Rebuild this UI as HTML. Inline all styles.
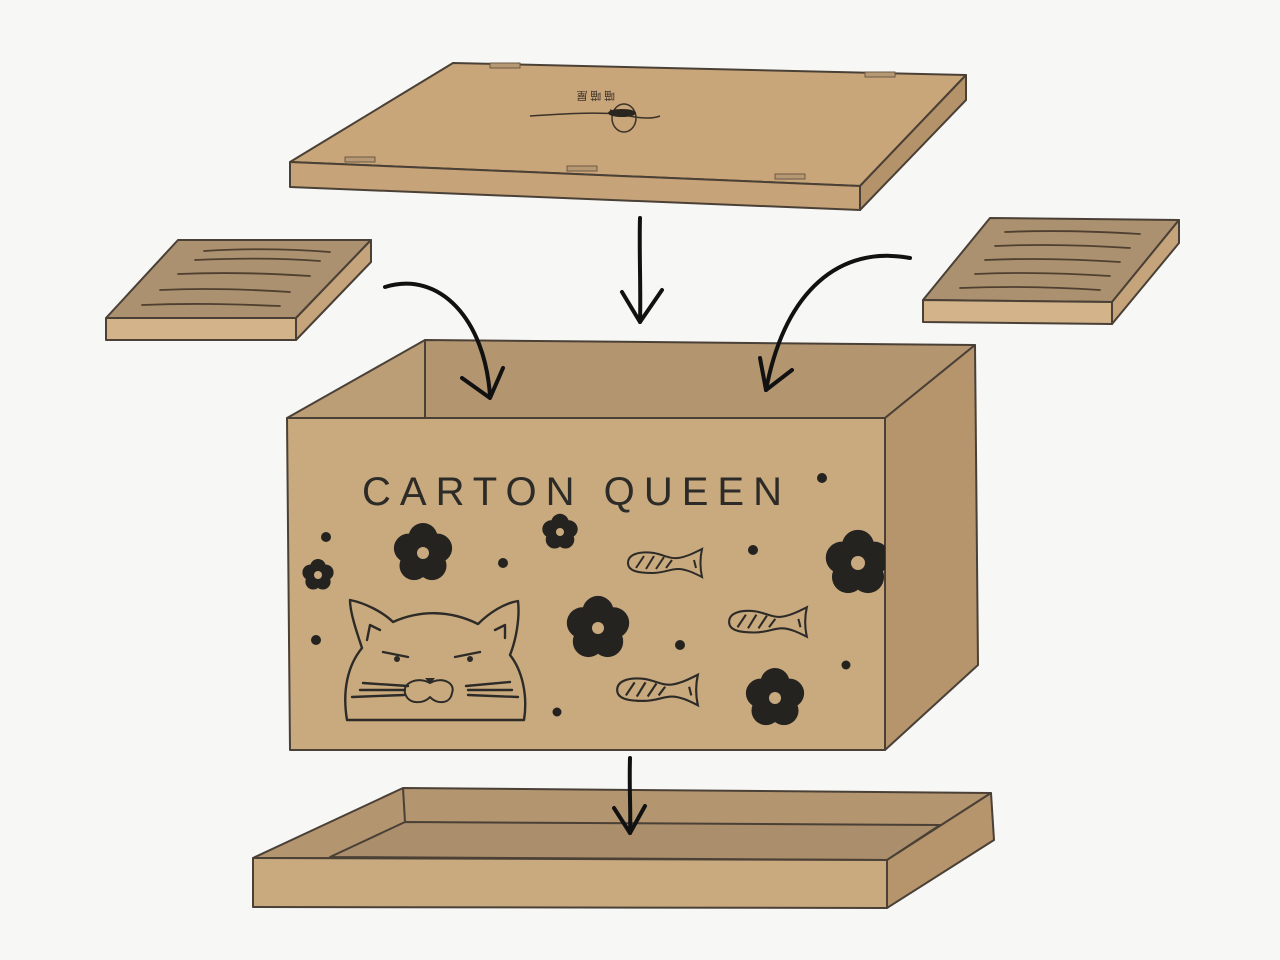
<!DOCTYPE html>
<html><head><meta charset="utf-8"><style>
html,body{margin:0;padding:0;background:#f7f7f6;}
svg{display:block;}
</style></head><body>
<svg width="1280" height="960" viewBox="0 0 1280 960" xmlns="http://www.w3.org/2000/svg">
<defs>
<g id="fl">
<circle cx="0" cy="-0.55" r="0.52"/><circle cx="0.52" cy="-0.17" r="0.52"/><circle cx="0.32" cy="0.45" r="0.52"/><circle cx="-0.32" cy="0.45" r="0.52"/><circle cx="-0.52" cy="-0.17" r="0.52"/>
<circle cx="0" cy="0" r="0.6"/>
</g>
<g id="fish" fill="none" stroke="#2d2b27" stroke-width="2">
<path d="M2,0 C2,-9 14,-12 28,-10 C38,-8 44,-4 52,-5 C60,-6 68,-10 76,-14 C74,-5 74,5 76,14 C68,10 60,6 52,6 C44,6 38,10 26,10 C12,10 2,8 2,0 Z"/>
<path d="M10,5 L18,-7 M20,6 L28,-7 M30,6 L38,-6 M40,5 L46,-3"/>
<path d="M68,-3 L70,5"/>
</g>
<clipPath id="frontclip"><rect x="287" y="418" width="598" height="332"/></clipPath>
</defs>

<!-- LID -->
<g stroke="#4a4036" stroke-width="2" stroke-linejoin="round">
<polygon points="290,162 453,63 966,75 860,186" fill="#c9a679"/>
<polygon points="290,162 860,186 860,210 290,187" fill="#c6a378"/>
<polygon points="860,186 966,75 966,100 860,210" fill="#b5936a"/>
</g>
<g fill="#b69873" stroke="#6b5a46" stroke-width="1">
<rect x="490" y="63" width="30" height="5"/><rect x="865" y="72" width="30" height="5"/>
<rect x="345" y="157" width="30" height="5"/><rect x="567" y="166" width="30" height="5"/><rect x="775" y="174" width="30" height="5"/>
</g>
<g fill="none" stroke="#3b3229" stroke-width="1.5">
<path d="M530,116 C560,114 590,112 620,114 M610,110 C630,118 650,120 660,116"/>
<ellipse cx="624" cy="118" rx="12" ry="14"/>
</g>
<ellipse cx="622" cy="113" rx="14" ry="4" fill="#2b2520"/>
<text x="615" y="100" font-family="Liberation Serif, 'Noto Sans CJK SC', serif" font-size="11" fill="#3b3229" transform="rotate(180 615 96)">喵 喵 屋</text>

<!-- LEFT PAD -->
<g stroke="#4a4036" stroke-width="2" stroke-linejoin="round">
<polygon points="106,318 178,240 371,240 296,318" fill="#ac9170"/>
<polygon points="106,318 296,318 296,340 106,340" fill="#d2b38a"/>
<polygon points="296,318 371,240 371,262 296,340" fill="#c5a47b"/>
</g>
<g stroke="#4e3f30" stroke-width="1.8" fill="none" stroke-linecap="round">
<path d="M204,251 C250,248 290,249 330,252"/><path d="M195,260 C240,258 280,258 320,261"/>
<path d="M178,274 C225,272 265,273 310,276"/><path d="M160,290 C205,288 245,289 290,292"/><path d="M142,305 C190,303 230,304 280,306"/>
</g>

<!-- RIGHT PAD -->
<g stroke="#4a4036" stroke-width="2" stroke-linejoin="round">
<polygon points="923,300 990,218 1179,220 1112,302" fill="#ac9170"/>
<polygon points="923,300 1112,302 1112,324 923,322" fill="#d2b38a"/>
<polygon points="1112,302 1179,220 1179,243 1112,324" fill="#c5a47b"/>
</g>
<g stroke="#4e3f30" stroke-width="1.8" fill="none" stroke-linecap="round">
<path d="M1005,232 C1050,230 1090,231 1140,234"/><path d="M995,246 C1040,244 1085,245 1130,248"/>
<path d="M985,260 C1030,258 1075,259 1120,262"/><path d="M975,274 C1020,272 1065,273 1110,276"/><path d="M960,288 C1010,286 1055,287 1100,290"/>
</g>

<!-- BOX -->
<g stroke="#4a4036" stroke-width="2" stroke-linejoin="round">
<polygon points="425,340 975,345 885,418 425,418" fill="#b39570"/>
<polygon points="287,418 425,340 425,418" fill="#bb9d76"/>
<polygon points="885,418 975,345 978,665 885,750" fill="#b6956c"/>
<polygon points="287,418 885,418 885,750 290,750" fill="#c9aa7f"/>
</g>
<text x="362" y="505" font-family="Liberation Sans, sans-serif" font-size="40" textLength="420" lengthAdjust="spacing" fill="#2d2b27">CARTON QUEEN</text>

<g fill="#252320" clip-path="url(#frontclip)">
<use href="#fl" transform="translate(423,553) scale(28)"/>
<use href="#fl" transform="translate(560,532) scale(17)"/>
<use href="#fl" transform="translate(318,575) scale(15)"/>
<use href="#fl" transform="translate(598,628) scale(30)"/>
<use href="#fl" transform="translate(858,563) scale(31)"/>
<use href="#fl" transform="translate(775,698) scale(28)"/>
<circle cx="326" cy="537" r="5"/><circle cx="503" cy="563" r="5"/><circle cx="753" cy="550" r="5"/>
<circle cx="822" cy="478" r="5"/><circle cx="316" cy="640" r="5"/><circle cx="680" cy="645" r="5"/>
<circle cx="846" cy="665" r="4.5"/><circle cx="557" cy="712" r="4.5"/>
</g>
<g fill="#c9aa7f">
<circle cx="423" cy="553" r="6"/><circle cx="560" cy="532" r="4"/><circle cx="318" cy="575" r="4"/>
<circle cx="598" cy="628" r="6"/><circle cx="858" cy="563" r="7"/><circle cx="775" cy="698" r="6"/>
</g>
<use href="#fish" transform="translate(626,563) scale(1)"/>
<use href="#fish" transform="translate(727,622) scale(1.05)"/>
<use href="#fish" transform="translate(615,690) scale(1.09)"/>

<!-- cat -->
<g fill="none" stroke="#2d2b27" stroke-width="2.4" stroke-linecap="round" stroke-linejoin="round">
<path d="M347,720 C342,690 348,665 362,648 C356,630 350,612 350,600 C365,603 383,612 393,622 C420,610 450,610 478,624 C490,612 505,603 518,601 C520,618 516,640 510,655 C522,670 528,695 524,720 Z"/>
<path d="M367,640 L370,625 L380,630"/><path d="M505,638 L505,625 L495,630"/>
<path d="M383,652 L408,657"/><path d="M455,657 L480,652"/>
<path d="M363,683 L408,686 M360,690 L405,690 M352,697 L404,695"/>
<path d="M466,686 L510,682 M468,690 L512,690 M468,695 L518,697"/>
<path d="M405,693 C402,683 418,676 430,683 C442,676 456,683 452,693 C450,705 436,704 430,697 C424,704 408,705 405,693 Z" stroke-width="2"/>
</g>
<g fill="#2d2b27"><circle cx="397" cy="659" r="3"/><circle cx="470" cy="659" r="3"/><path d="M425,678 L435,678 L430,684 Z"/></g>

<!-- TRAY -->
<g stroke="#4a4036" stroke-width="2" stroke-linejoin="round">
<polygon points="253,858 403,788 991,793 887,860" fill="#b39570"/>
<polygon points="330,857 405,822 940,825 887,860" fill="#ab8e6b"/>
<polygon points="887,860 991,793 994,840 887,908" fill="#b6956c"/>
<polygon points="253,858 887,860 887,908 253,907" fill="#c9aa7f"/>
</g>
<path d="M403,788 L405,822" stroke="#4a4036" stroke-width="2"/>

<!-- ARROWS -->
<g fill="none" stroke="#111" stroke-width="4" stroke-linecap="round" stroke-linejoin="round">
<path d="M640,218 C639,250 641,290 640,322"/><path d="M622,292 L640,322 L662,290"/>
<path d="M385,287 C440,270 485,320 490,396"/><path d="M462,378 L490,398 L503,368"/>
<path d="M910,258 C840,245 785,290 766,390"/><path d="M760,358 L766,390 L792,370"/>
<path d="M630,758 C629,790 631,810 630,833"/><path d="M614,808 L630,833 L645,806"/>
</g>
</svg>
</body></html>
